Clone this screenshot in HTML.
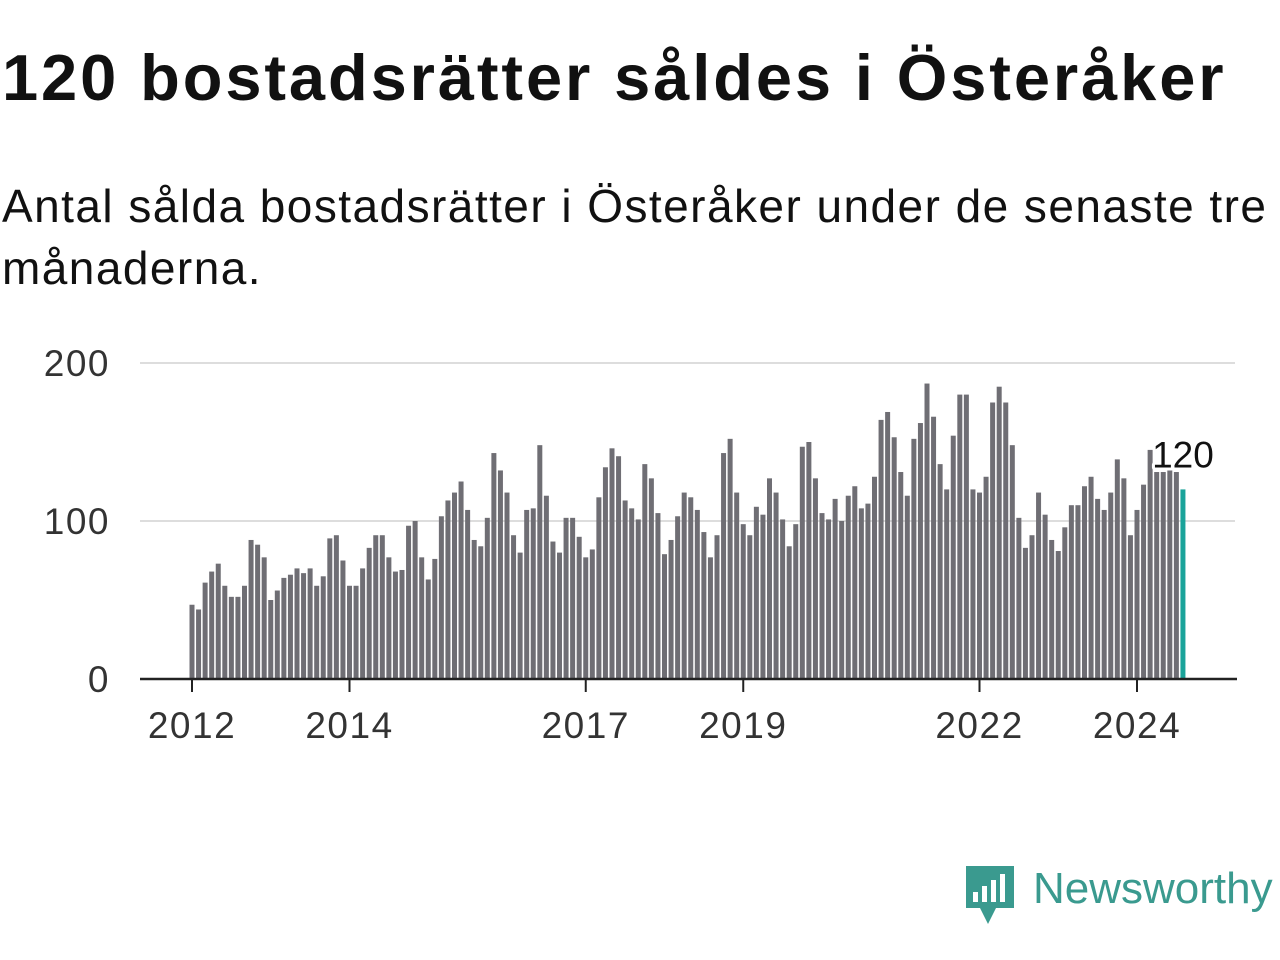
<!DOCTYPE html>
<html><head><meta charset="utf-8"><style>
body{margin:0;width:1280px;height:960px;background:#fff;font-family:"Liberation Sans","DejaVu Sans",sans-serif;overflow:hidden;position:relative}
#title{position:absolute;left:2px;top:40px;font-size:65px;letter-spacing:2.9px;font-weight:bold;color:#111;white-space:nowrap;margin:0;line-height:76px}
#sub{position:absolute;left:2px;top:175px;font-size:46px;letter-spacing:1.45px;color:#111;line-height:62px;width:1280px;margin:0}
svg{position:absolute;left:0;top:0}
</style></head><body>
<h1 id="title">120 bostadsrätter såldes i Österåker</h1>
<p id="sub">Antal sålda bostadsrätter i Österåker under de senaste tre månaderna.</p>
<svg id="chart" width="1280" height="960"></svg>
<script>
const years=[2012,2013,2014,2015,2016,2017,2018,2019,2020,2021,2022,2023,2024];
const tickYears=[2012,2014,2017,2019,2022,2024];
const yTicks=[0,100,200];
const values=[
47,44,61,68,73,59,52,52,59,88,85,77,
50,56,64,66,70,67,70,59,65,89,91,75,
59,59,70,83,91,91,77,68,69,97,100,77,
63,76,103,113,118,125,107,88,84,102,143,132,
118,91,80,107,108,148,116,87,80,102,102,90,
77,82,115,134,146,141,113,108,101,136,127,105,
79,88,103,118,115,107,93,77,91,143,152,118,
98,91,109,104,127,118,101,84,98,147,150,127,
105,101,114,100,116,122,108,111,128,164,169,153,
131,116,152,162,187,166,136,120,154,180,180,120,
118,128,175,185,175,148,102,83,91,118,104,88,
81,96,110,110,122,128,114,107,118,139,127,91,
107,123,145,131,131,132,131,120];
const NS="http://www.w3.org/2000/svg";
const svg=document.getElementById('chart');
const x0=192, step=(1137-192)/144;
const xm=i=>x0+i*step;
const xy=yr=>x0+(yr-2012)*12*step;
const y=v=>679-v*1.58;
function mk(t,a){const e=document.createElementNS(NS,t);for(const k in a)e.setAttribute(k,a[k]);svg.appendChild(e);return e;}
yTicks.forEach(v=>{
  if(v>0){const g=mk('line',{x1:140,x2:1235,y1:y(v),y2:y(v),stroke:'#ddd','stroke-width':2});
  
  }
  const t=mk('text',{x:110,y:y(v)+13,'text-anchor':'end','font-size':37,'letter-spacing':1.5,fill:'#333'});
  
  
  t.textContent=v;
});
values.forEach((v,i)=>{
  const last=i===values.length-1;
  const r=mk('rect',{x:xm(i)-2.5,y:y(v),width:5,height:v*1.58,fill:last?'#1aa39a':'#6f6e74'});
  
  
});
const ax=mk('line',{x1:140,x2:1237,y1:679,y2:679,stroke:'#222','stroke-width':2.5});


tickYears.forEach(yr=>{
  const l=mk('line',{x1:xy(yr),x2:xy(yr),y1:679,y2:692,stroke:'#222','stroke-width':2});
  
  
  const t=mk('text',{x:xy(yr),y:738,'text-anchor':'middle','font-size':37,'letter-spacing':1.5,fill:'#333'});
  
  
  t.textContent=yr;
});
const li=values.length-1;
const lab=mk('text',{x:xm(li),y:y(values[li])-22,'text-anchor':'middle','font-size':37,fill:'#111',stroke:'#fff','stroke-width':6,'paint-order':'stroke','stroke-linejoin':'round'});


lab.textContent=values[li];
</script>
<svg width="1280" height="960" style="pointer-events:none">
<path d="M966,866 h48 v42 h-18 l-8,16 l-8,-16 h-14 z" fill="#3a9a8f"/>
<rect x="973" y="892" width="5" height="10" fill="#fff"/>
<rect x="982" y="886" width="5" height="16" fill="#fff"/>
<rect x="991" y="880" width="5" height="22" fill="#fff"/>
<rect x="1000" y="874" width="5" height="28" fill="#fff"/>
<text x="1033" y="903" font-size="44" fill="#3a9a8f" font-family="Liberation Sans, sans-serif">Newsworthy</text>
</svg>
</body></html>
